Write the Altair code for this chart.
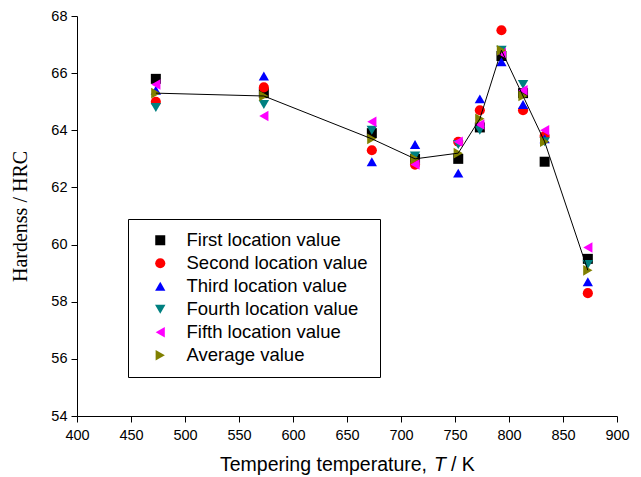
import altair as alt
import pandas as pd

# Tempering temperatures (K)
temperature = [473, 573, 673, 713, 753, 773, 793, 813, 833, 873]

# Hardness (HRC) measured at five locations and their mean
first_loc = [65.8, 65.3, 63.9, 63.0, 63.0, 64.1, 66.6, 65.3, 62.9, 59.5]
second_loc = [65.0, 65.5, 63.3, 62.8, 63.6, 64.7, 67.5, 64.7, 63.8, 58.3]
third_loc = [65.4, 65.9, 62.9, 63.5, 62.5, 65.1, 66.4, 64.9, 63.7, 58.7]
fourth_loc = [64.8, 64.9, 64.0, 63.1, 63.5, 64.0, 66.8, 65.6, 63.6, 59.3]
fifth_loc = [65.6, 64.5, 64.3, 62.8, 63.6, 64.2, 66.7, 65.4, 64.0, 59.9]
average = [65.3, 65.2, 63.7, 63.0, 63.2, 64.4, 66.8, 65.2, 63.6, 59.1]

series_names = [
    "First location value",
    "Second location value",
    "Third location value",
    "Fourth location value",
    "Fifth location value",
    "Average value",
]
series_values = [first_loc, second_loc, third_loc, fourth_loc, fifth_loc, average]
series_colors = ["#000000", "#FF0000", "#0000FF", "#008080", "#FF00FF", "#808000"]
series_shapes = ["square", "circle", "triangle-up", "triangle-down",
                 "triangle-left", "triangle-right"]
series_sizes = [100, 115, 165, 165, 165, 165]

x_ticks = list(range(400, 901, 25))
y_ticks = list(range(54, 69))

rows = []
for name, vals in zip(series_names, series_values):
    for t, v in zip(temperature, vals):
        rows.append({"series": name, "T": t, "HRC": v})
df = pd.DataFrame(rows)
avg_df = pd.DataFrame({"T": temperature, "HRC": average})

SANS = "Liberation Sans"
SERIF = "Liberation Serif"

x_axis = alt.Axis(
    values=x_ticks,
    labelExpr="datum.value % 50 === 0 ? datum.label : ''",
    tickSize={"condition": {"test": "datum.value % 50 === 0", "value": 6}, "value": 3},
    labelFont=SANS, labelFontSize=14.5, labelColor="black", labelPadding=6,
    domainColor="black", tickColor="black", grid=False, title=None,
    labelFlush=False, labelOverlap=False,
)
y_axis = alt.Axis(
    values=y_ticks,
    labelExpr="datum.value % 2 === 0 ? datum.label : ''",
    tickSize={"condition": {"test": "datum.value % 2 === 0", "value": 6}, "value": 3},
    labelFont=SANS, labelFontSize=14.5, labelColor="black", labelPadding=4,
    domainColor="black", tickColor="black", grid=False,
    title="Hardenss / HRC", titleFont=SERIF, titleFontSize=20,
    titleFontWeight="normal", titleColor="black", titlePadding=20,
    labelFlush=False, labelOverlap=False,
)

x_enc = alt.X("T:Q", scale=alt.Scale(domain=[400, 900], nice=False, zero=False), axis=x_axis)
y_enc = alt.Y("HRC:Q", scale=alt.Scale(domain=[54, 68], nice=False, zero=False), axis=y_axis)

points = alt.Chart(df).mark_point(filled=True, opacity=1, strokeWidth=0).encode(
    x=x_enc,
    y=y_enc,
    color=alt.Color(
        "series:N",
        scale=alt.Scale(domain=series_names, range=series_colors),
        legend=alt.Legend(
            title=None, orient="none", legendX=51, legendY=203,
            strokeColor="black", fillColor="white", padding=12,
            symbolOffset=11, symbolStrokeWidth=0,
            labelFont=SANS, labelFontSize=18.5, labelColor="black",
            labelOffset=17, labelLimit=400, rowPadding=4,
        ),
    ),
    shape=alt.Shape("series:N", scale=alt.Scale(domain=series_names, range=series_shapes)),
    size=alt.Size("series:N", scale=alt.Scale(domain=series_names, range=series_sizes)),
)

avg_line = alt.Chart(avg_df).mark_line(color="black", strokeWidth=1).encode(
    x=alt.X("T:Q"), y=alt.Y("HRC:Q")
)

# x-axis title, assembled so the symbol T can be set in italics
title_y = 455
title_size = 19.5
t1 = alt.Chart(pd.DataFrame({"s": ["Tempering temperature,"]})).mark_text(
    font=SANS, fontSize=title_size, align="left", baseline="alphabetic", color="black"
).encode(text="s:N", x=alt.value(143), y=alt.value(title_y))
t2 = alt.Chart(pd.DataFrame({"s": ["T"]})).mark_text(
    font=SANS, fontSize=title_size, fontStyle="italic", align="left", baseline="alphabetic", color="black"
).encode(text="s:N", x=alt.value(357), y=alt.value(title_y))
t3 = alt.Chart(pd.DataFrame({"s": ["/ K"]})).mark_text(
    font=SANS, fontSize=title_size, align="left", baseline="alphabetic", color="black"
).encode(text="s:N", x=alt.value(374), y=alt.value(title_y))

chart = alt.layer(points, avg_line, t1, t2, t3).properties(
    width=540,
    height=400,
    padding={"left": 77, "top": 16, "right": 24, "bottom": 61},
    autosize=alt.AutoSizeParams(type="none"),
    background="white",
).configure_view(stroke=None)

chart.save("out.html", embed_options={"renderer": "svg", "actions": False})
